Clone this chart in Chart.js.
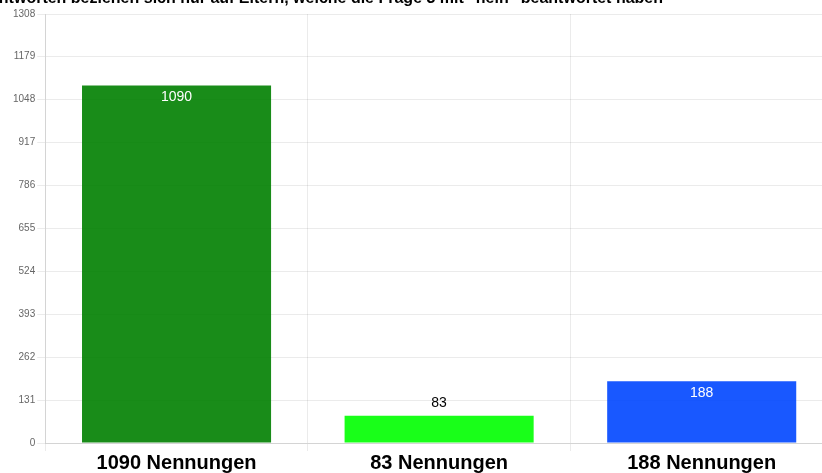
<!DOCTYPE html>
<html>
<head>
<meta charset="utf-8">
<script src="https://cdn.jsdelivr.net/npm/chart.js@4/dist/chart.umd.min.js"></script>
<style>
html,body{margin:0;padding:0;background:#fff;overflow:hidden;}
#wrap{position:relative;width:822px;height:473px;overflow:hidden;}
#c{position:absolute;left:0;top:0;}
</style>
</head>
<body>
<div id="wrap"><canvas id="c" width="833" height="475"></canvas></div>
<script>
const titleText = 'Die Antworten beziehen sich nur auf Eltern, welche die Frage 3 mit "nein" beantwortet haben';
const categories = ['1090 Nennungen', '83 Nennungen', '188 Nennungen'];
const values = [1090, 83, 188];
const barColors = ['rgba(0,128,0,0.9)', 'rgba(0,255,0,0.9)', 'rgba(0,70,255,0.9)'];
const yTicks = [0, 131, 262, 393, 524, 655, 786, 917, 1048, 1179, 1308];

const topTitle = {
  id: 'topTitle',
  afterDraw(chart) {
    const ctx = chart.ctx;
    ctx.save();
    ctx.font = 'bold 16px "Liberation Sans", Arial, sans-serif';
    ctx.fillStyle = '#000';
    ctx.textAlign = 'right';
    ctx.textBaseline = 'alphabetic';
    ctx.fillText(titleText, 663, 3);
    ctx.restore();
  }
};

const valueLabels = {
  id: 'valueLabels',
  afterDatasetsDraw(chart) {
    const ctx = chart.ctx;
    const meta = chart.getDatasetMeta(0);
    ctx.save();
    ctx.font = '14px "Liberation Sans", Arial, sans-serif';
    ctx.textAlign = 'center';
    ctx.textBaseline = 'middle';
    meta.data.forEach((bar, i) => {
      const v = chart.data.datasets[0].data[i];
      const h = bar.base - bar.y;
      if (h > 40) {
        ctx.fillStyle = '#fff';
        ctx.fillText(String(v), bar.x, bar.y + 12);
      } else {
        ctx.fillStyle = '#000';
        ctx.fillText(String(v), bar.x, bar.y - 13);
      }
    });
    ctx.restore();
  }
};

new Chart(document.getElementById('c'), {
  type: 'bar',
  data: {
    labels: categories,
    datasets: [{
      data: values,
      backgroundColor: barColors,
      borderWidth: 0
    }]
  },
  options: {
    responsive: false,
    animation: false,
    layout: { padding: { top: 14, left: 11, right: 0, bottom: 0 } },
    plugins: {
      legend: { display: false },
      title: { display: false },
      tooltip: { enabled: false }
    },
    scales: {
      x: {
        grid: { color: 'rgba(0,0,0,0.08)' },
        ticks: {
          color: '#000',
          font: { family: '"Liberation Sans", Arial, sans-serif', size: 20, weight: 'bold' },
          padding: 0
        }
      },
      y: {
        min: 0,
        max: 1308,
        afterBuildTicks(axis) { axis.ticks = yTicks.map(v => ({ value: v })); },
        grid: { color: 'rgba(0,0,0,0.08)' },
        ticks: {
          color: '#666',
          font: { family: '"Liberation Sans", Arial, sans-serif', size: 10 },
          padding: 2,
          callback: (v) => String(v)
        }
      }
    }
  },
  plugins: [topTitle, valueLabels]
});
</script>
</body>
</html>
